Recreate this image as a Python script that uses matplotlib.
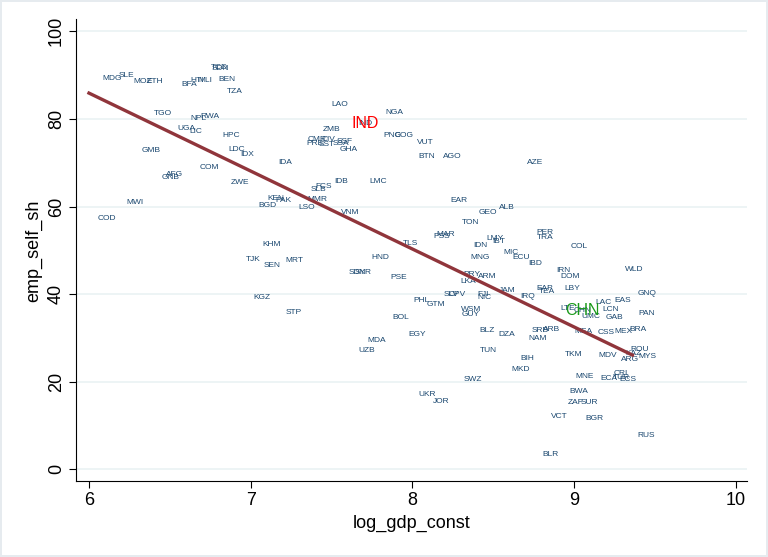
import numpy as np
import matplotlib.pyplot as plt

# country code, log_gdp_const, emp_self_sh
codes = ["MDG", "SLE", "MOZ", "ETH", "BFA", "HTI", "MLI", "TCD", "SDN", "BEN", "TZA",
         "TGO", "NPL", "RWA", "UGA", "LIC", "HPC", "GMB", "LDC", "IDX", "COM", "AFG", "GNB",
         "ZWE", "LAO", "NGA", "IND", "ZMB", "PNG", "COG", "VUT", "CMR", "CIV", "SSF", "SSA",
         "PRE", "SST", "GHA", "BTN", "AGO", "IDA", "IDB", "LMC", "FCS", "SLB", "KEN", "PAK",
         "BGD", "MMR", "LSO", "VNM", "MWI", "COD", "KHM", "TJK", "SEN", "KGZ", "MRT", "HND",
         "SDN", "SYR", "PSE", "TLS", "MAR", "PSS", "STP", "PHL", "GTM", "BOL", "EGY", "MDA",
         "UZB", "UKR", "EAR", "GEO", "ALB", "TON", "LMY", "IBT", "IDN", "MNG", "MIC", "ECU",
         "IBD", "PER", "TRA", "IRN", "DOM", "PRY", "ARM", "LKA", "SLV", "CPV", "FJI", "NIC",
         "JAM", "IRQ", "EAP", "TEA", "LBY", "WSM", "GUY", "AZE", "COL", "WLD", "GNQ", "EAS",
         "LAC", "LCN", "PAN", "UMC", "GAB", "LTE", "CHN", "SRB", "ARB", "NAM", "MEA", "CSS",
         "MEX", "BRA", "ROU", "KAZ", "ARG", "MYS", "TKM", "MDV", "BIH", "MNE", "ECA", "CRI",
         "TUR", "ECS", "BWA", "BLZ", "DZA", "TUN", "MKD", "SWZ", "JOR", "VCT", "BLR", "ZAF",
         "SUR", "BGR", "RUS"]
log_gdp = [6.146, 6.229, 6.334, 6.404, 6.622, 6.668, 6.719, 6.805, 6.812, 6.853, 6.899,
           6.458, 6.678, 6.746, 6.602, 6.662, 6.878, 6.383, 6.915, 6.977, 6.746, 6.528, 6.503,
           6.931, 7.550, 7.888, 7.709, 7.503, 7.878, 7.950, 8.080, 7.410, 7.482, 7.578, 7.560,
           7.400, 7.468, 7.606, 8.086, 8.245, 7.214, 7.560, 7.787, 7.451, 7.420, 7.158, 7.204,
           7.101, 7.410, 7.344, 7.616, 6.286, 6.111, 7.132, 7.014, 7.132, 7.070, 7.272, 7.802,
           7.660, 7.695, 7.915, 7.987, 8.203, 8.183, 7.265, 8.059, 8.148, 7.925, 8.028, 7.781,
           7.715, 8.090, 8.290, 8.465, 8.581, 8.358, 8.509, 8.533, 8.420, 8.416, 8.610, 8.672,
           8.760, 8.822, 8.822, 8.935, 8.977, 8.369, 8.461, 8.348, 8.239, 8.276, 8.439, 8.445,
           8.585, 8.715, 8.816, 8.832, 8.987, 8.362, 8.358, 8.760, 9.032, 9.368, 9.451, 9.300,
           9.183, 9.228, 9.447, 9.106, 9.250, 8.958, 9.049, 8.791, 8.863, 8.774, 9.055, 9.199,
           9.302, 9.393, 9.405, 9.368, 9.348, 9.451, 8.997, 9.207, 8.713, 9.065, 9.215, 9.286,
           9.290, 9.330, 9.028, 8.461, 8.581, 8.467, 8.667, 8.372, 8.179, 8.910, 8.853, 9.007,
           9.096, 9.127, 9.447]
emp_self = [89.3, 89.9, 88.6, 88.6, 87.8, 88.7, 88.7, 91.8, 91.6, 89.1, 86.2,
            81.3, 80.2, 80.5, 77.9, 77.1, 76.3, 72.9, 73.0, 71.9, 69.0, 67.4, 66.7,
            65.5, 83.2, 81.5, 79.0, 77.7, 76.3, 76.3, 74.7, 75.4, 75.4, 74.8, 74.4,
            74.3, 74.2, 73.1, 71.5, 71.5, 70.0, 65.8, 65.8, 64.5, 63.9, 61.9, 61.3,
            60.2, 61.7, 59.7, 58.7, 61.0, 57.3, 51.4, 48.0, 46.6, 39.2, 47.8, 48.3,
            44.9, 45.0, 43.7, 51.6, 53.7, 53.1, 35.8, 38.6, 37.6, 34.6, 30.8, 29.5,
            27.2, 17.1, 61.3, 58.7, 59.7, 56.4, 52.6, 52.0, 51.0, 48.4, 49.5, 48.3,
            46.9, 54.1, 53.0, 45.3, 44.0, 44.5, 44.0, 42.8, 40.0, 39.9, 39.9, 39.3,
            40.9, 39.5, 41.2, 40.7, 41.2, 36.5, 35.4, 70.1, 50.8, 45.7, 40.2, 38.6,
            38.1, 36.6, 35.7, 34.8, 34.6, 36.7, 36.3, 31.6, 31.9, 29.9, 31.5, 31.2,
            31.5, 31.9, 27.4, 26.4, 25.1, 25.7, 26.3, 25.9, 25.3, 21.3, 20.7, 21.9,
            20.9, 20.5, 17.7, 31.7, 30.9, 27.2, 22.9, 20.6, 15.6, 12.0, 3.4, 15.2,
            15.2, 11.7, 7.8]

# highlighted countries
highlight = {"IND": "#ff0000", "CHN": "#1a9a1a"}

# linear fit line end points
fit_x = [6.0, 9.36]
fit_y = [85.9, 26.1]

plt.rcParams['font.family'] = ['Liberation Sans', 'DejaVu Sans']

fig = plt.figure(figsize=(7.68, 5.57), dpi=100)
ax = fig.add_axes([0.099, 0.136, 0.874, 0.829])

for c, x, y in zip(codes, log_gdp, emp_self):
    ax.text(x, y, c, fontsize=6, color="#1a476f", ha="center", va="center",
            family=['Liberation Sans Narrow', 'Liberation Sans', 'DejaVu Sans'], zorder=3)

for c, col in highlight.items():
    i = codes.index(c)
    ax.text(log_gdp[i], emp_self[i], c, fontsize=11.5, color=col, ha="center",
            va="center", zorder=5)

ax.plot(fit_x, fit_y, color="#90353b", lw=2.4, zorder=4)

ax.set_xlim(5.92, 10.07)
ax.set_ylim(-2.7, 102.7)
ax.set_xticks([6, 7, 8, 9, 10])
ax.set_yticks([0, 20, 40, 60, 80, 100])
ax.tick_params(axis='y', labelrotation=90, labelsize=13, length=5, pad=3)
ax.tick_params(axis='x', labelsize=13, length=5, pad=3)
for lab in ax.get_yticklabels():
    lab.set_va("center")
ax.grid(axis='y', color="#eaf2f3", lw=1.2)
ax.set_axisbelow(True)
for s in ["top", "right"]:
    ax.spines[s].set_visible(False)
ax.set_xlabel("log_gdp_const", fontsize=13)
ax.set_ylabel("emp_self_sh", fontsize=13)

fig.patch.set_edgecolor("#e6ebef")
fig.patch.set_linewidth(1.5)
plt.savefig("out.png", dpi=100, edgecolor=fig.get_edgecolor())
